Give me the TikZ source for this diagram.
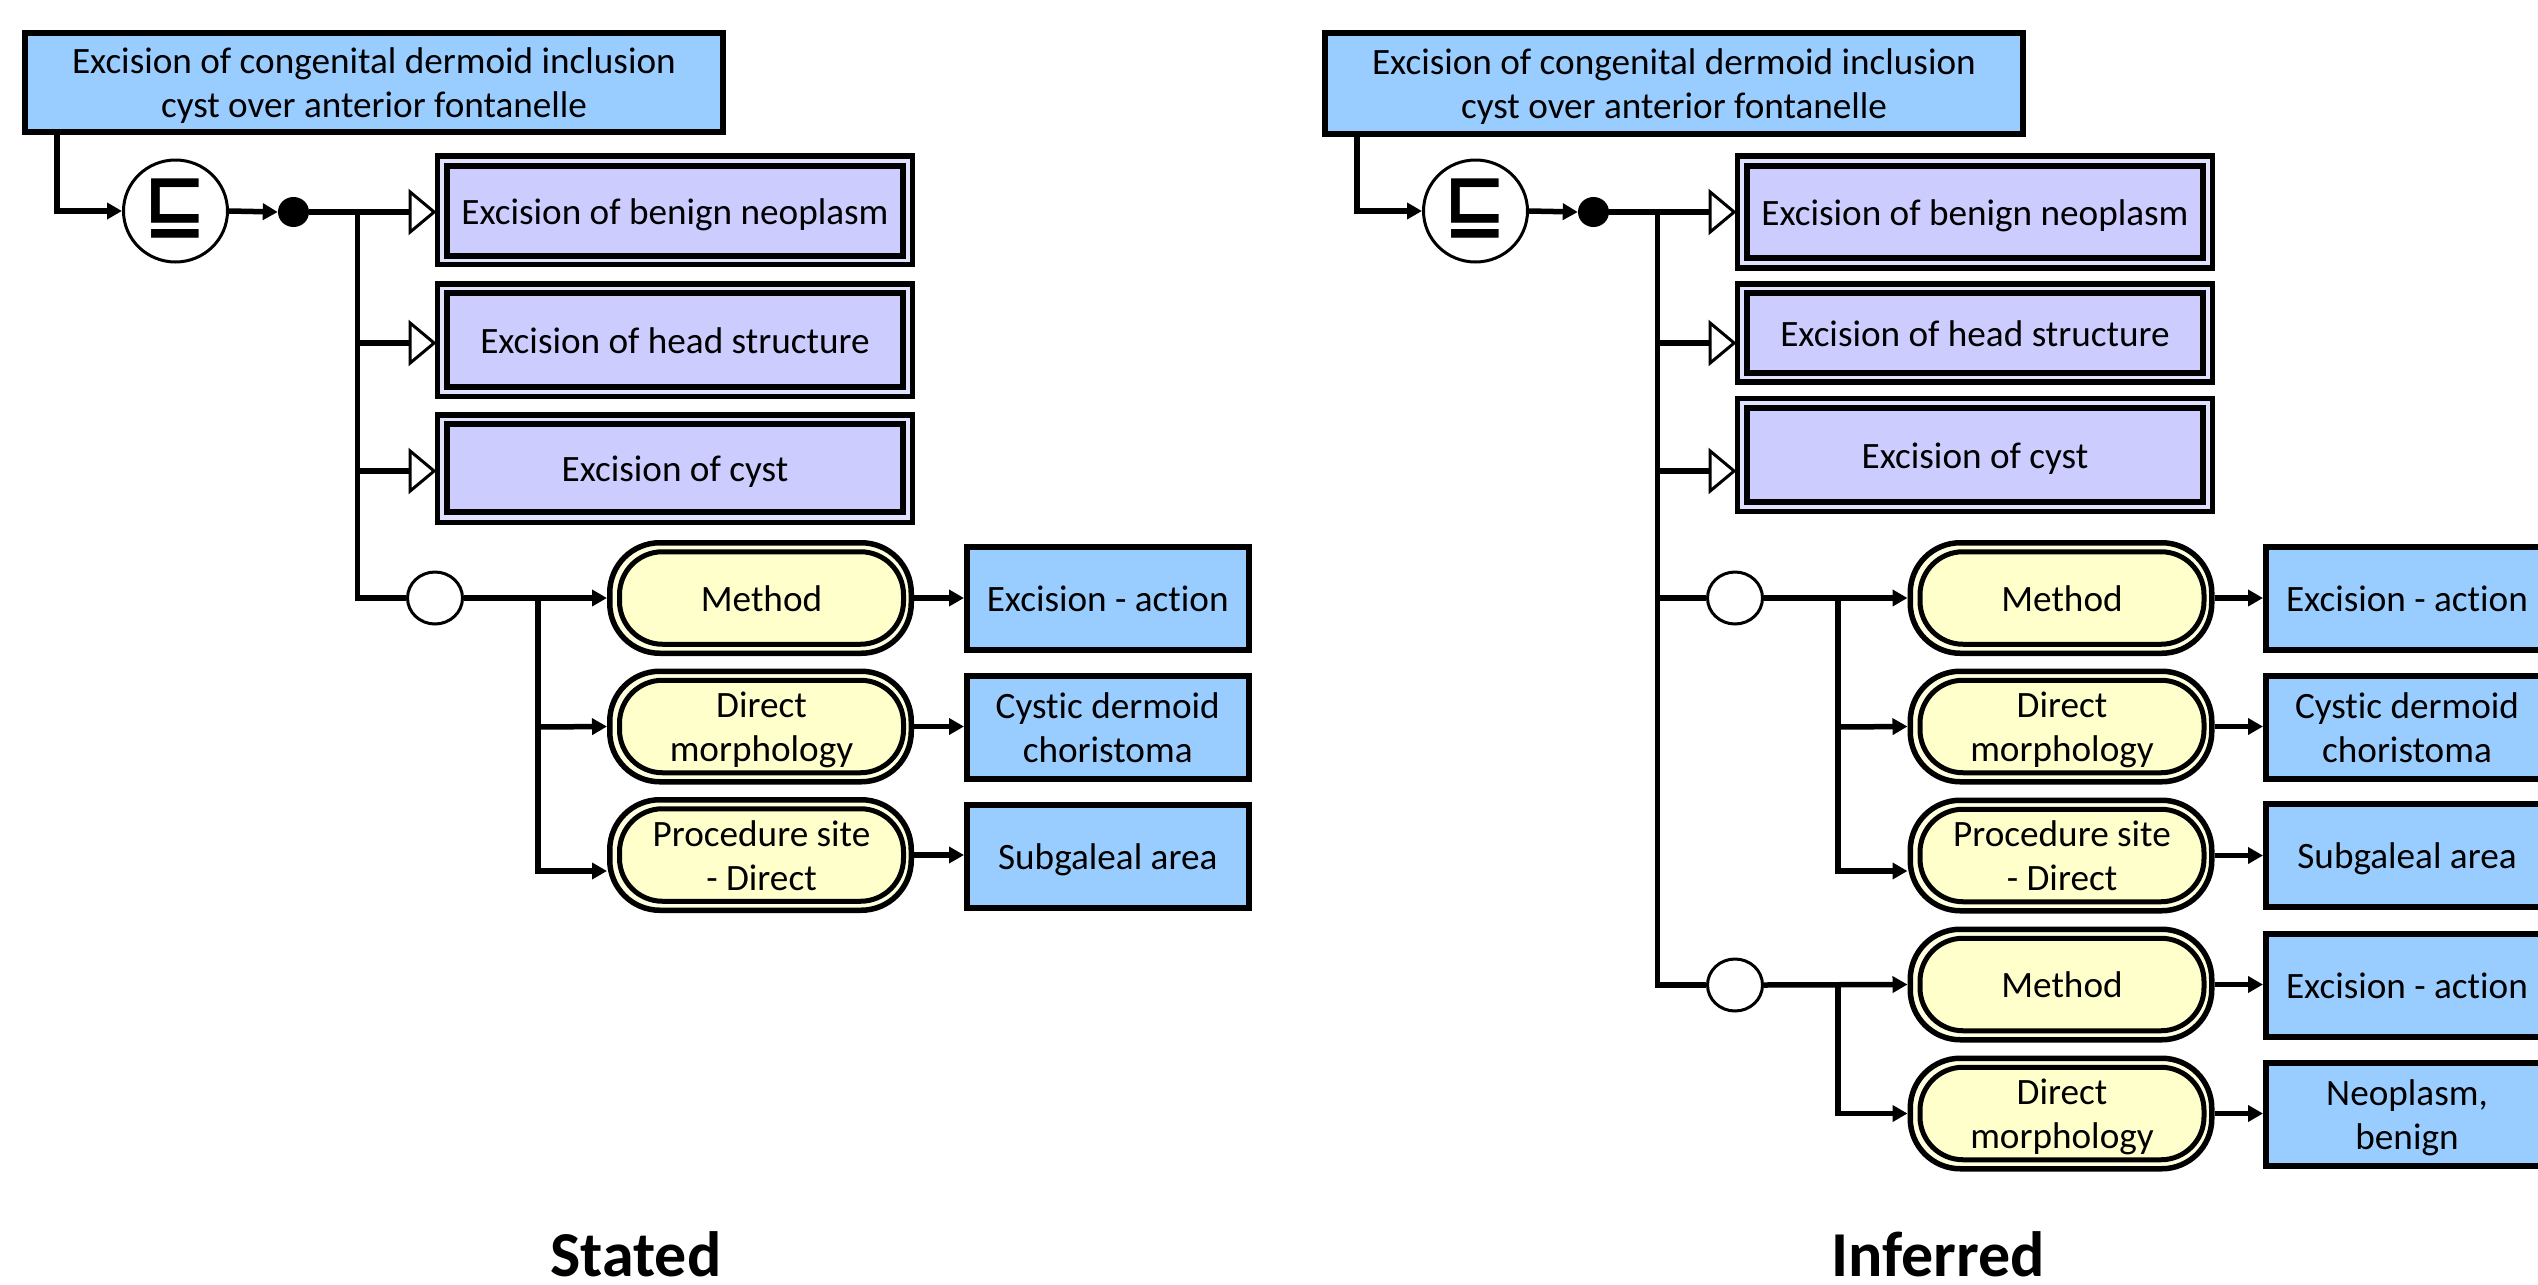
\documentclass[tikz,border=0pt]{standalone}
\usepackage{fontspec}
\setmainfont{Carlito}[Ligatures=NoCommon]
\newfontfamily\symfont{DejaVu Sans}
\usetikzlibrary{arrows.meta,shapes.geometric}
\definecolor{bluefill}{HTML}{99CCFF}
\definecolor{purplefill}{HTML}{CCCCFF}
\definecolor{yellowfill}{HTML}{FFFFCC}
\newcommand{\TopStrut}{\rule{0pt}{36pt}}
\newcommand{\BotStrut}{\rule[-10pt]{0pt}{10pt}}
\tikzset{
  txt/.style={font=\fontsize{37.2}{44}\selectfont,align=center,inner sep=0pt,
    execute at begin node=\TopStrut,execute at end node=\BotStrut},
  bluebox/.style={txt,draw=black,fill=bluefill,line width=6pt,rectangle},
  purpleout/.style={draw=black,fill=purplefill!60!white,line width=5.5pt,rectangle,inner sep=0pt,minimum width=475pt},
  purplein/.style={txt,draw=black,fill=purplefill,line width=6pt,rectangle,minimum width=456pt},
  pillout/.style={draw=black,fill=yellowfill!60!white,line width=5.5pt,rectangle,rounded corners=50pt,inner sep=0pt,minimum width=301.5pt,minimum height=110.5pt},
  pillin/.style={txt,draw=black,fill=yellowfill,line width=5pt,rectangle,rounded corners=43pt,minimum width=284pt,minimum height=92.5pt},
  rolenode/.style={draw=black,fill=white,line width=3pt,ellipse,inner sep=0pt,minimum width=55pt,minimum height=52pt},
  subnode/.style={draw=black,fill=white,line width=3pt,ellipse,inner sep=0pt,minimum width=104pt,minimum height=102pt,text height=44pt,text depth=8pt,font=\symfont\bfseries\fontsize{76}{76}\selectfont},
  dotnode/.style={draw=none,fill=black,ellipse,inner sep=0pt,minimum width=31pt,minimum height=30pt},
  plainline/.style={line width=5.5pt},
  solidarrow/.style={line width=5.5pt,-{Triangle[length=15pt,width=16pt]}},
  openarrow/.style={line width=5.5pt,shorten >=-2pt,-{Triangle[length=28pt,width=46pt,fill=white,line width=3pt]}},
  caption/.style={font=\fontsize{64}{70}\selectfont\bfseries,inner sep=0pt}
}
\newcommand{\PurplePair}[7]{%
  \node[purpleout,minimum height=#4pt] (#1o) at (#2,#3) {};
  \node[purplein,minimum height=#6pt] (#1) at (#2+0.25,#5) {#7};}
\newcommand{\PillPair}[4]{%
  \node[pillout] (#1o) at (#2,#3) {};
  \node[pillin] (#1) at (#2+1,#3) {#4};}
\begin{document}
\begin{tikzpicture}[x=1pt,y=-1pt]
\useasboundingbox (0,0) rectangle (2538,1285);
\clip (0,0) rectangle (2538,1285);
% ===== Stated =====
\node[bluebox,minimum width=698pt,minimum height=99pt] (Ltop) at (374,82.5) {\TopStrut Excision of congenital dermoid inclusion\\cyst over anterior fontanelle};
\node[subnode] (Lsub) at (175.5,211) {⊑};
\node[dotnode] (Ldot) at (293.5,212) {};
\PurplePair{Lpa}{674.75}{210}{108.5}{211}{90}{Excision of benign neoplasm}
\PurplePair{Lpb}{674.75}{340}{112.5}{340}{94}{Excision of head structure}
\PurplePair{Lpc}{674.75}{468.5}{107.5}{468}{88}{Excision of cyst}
\node[rolenode] (Lr) at (435,598) {};
\PillPair{Lma}{760.5}{598}{Method}
\PillPair{Lmb}{760.5}{726.5}{\TopStrut Direct\\morphology}
\PillPair{Lmc}{760.5}{855}{\TopStrut Procedure site\\- Direct}
\node[bluebox,minimum width=281.5pt,minimum height=103pt] (Lva) at (1107.75,598) {Excision - action};
\node[bluebox,minimum width=281.5pt,minimum height=103pt] (Lvb) at (1107.75,727) {\TopStrut Cystic dermoid\\choristoma};
\node[bluebox,minimum width=281.5pt,minimum height=103pt] (Lvc) at (1107.75,856) {Subgaleal area};
\coordinate (Lst) at (57,135);
\coordinate (Lsp) at (357.5,212);
\coordinate (Ltb) at (357.5,343);
\coordinate (Ltc) at (357.5,471);
\coordinate (Lrl) at (357.5,598);
\coordinate (Lbr) at (538,598);
\coordinate (Lbb) at (538,727);
\coordinate (Lbc) at (538,871);
\draw[solidarrow] (Lst) |- (Lsub.west);
\draw[solidarrow] (Lsub.east) -- (Ldot.west);
\draw[openarrow] (Ldot.east) -- (Ldot.east -| Lpao.west);
\draw[openarrow] (Ltb) -- (Ltb -| Lpbo.west);
\draw[openarrow] (Ltc) -- (Ltc -| Lpco.west);
\draw[plainline,line join=miter] (Lsp) -- (Lrl) -- (Lr.west);
\draw[solidarrow] (Lr.east) -- (Lmao.west);
\draw[plainline] (Lbr) -- (Lbb);
\draw[solidarrow] (Lbb) -- (Lmbo.west);
\draw[solidarrow,line join=miter] (Lbb) |- (Lbc -| Lmco.west);
\draw[solidarrow] (Lmao.east) -- (Lva.west |- Lmao.east);
\draw[solidarrow] (Lmbo.east) -- (Lvb.west |- Lmbo.east);
\draw[solidarrow] (Lmco.east) -- (Lvc.west |- Lmco.east);
\node[caption] (Lcap) at (636,1254) {Stated};
% ===== Inferred =====
\node[bluebox,minimum width=698pt,minimum height=101pt] (Rtop) at (1674,83.5) {\TopStrut Excision of congenital dermoid inclusion\\cyst over anterior fontanelle};
\node[subnode] (Rsub) at (1475.5,211) {⊑};
\node[dotnode] (Rdot) at (1593.5,212) {};
\PurplePair{Rpa}{1974.75}{211.75}{112}{212}{92}{Excision of benign neoplasm}
\PurplePair{Rpb}{1974.75}{332.75}{98}{333}{80}{Excision of head structure}
\PurplePair{Rpc}{1974.75}{454.75}{113}{455}{94}{Excision of cyst}
\node[rolenode] (Rra) at (1735,598) {};
\node[rolenode] (Rrb) at (1735,985) {};
\PillPair{Rma}{2061}{598}{Method}
\PillPair{Rmb}{2061}{726.5}{\TopStrut Direct\\morphology}
\PillPair{Rmc}{2061}{855.5}{\TopStrut Procedure site\\- Direct}
\PillPair{Rmd}{2061}{984.5}{Method}
\PillPair{Rme}{2061}{1113.5}{\TopStrut Direct\\morphology}
\node[bluebox,minimum width=282pt,minimum height=103pt] (Rva) at (2407,598) {Excision - action};
\node[bluebox,minimum width=282pt,minimum height=103pt] (Rvb) at (2407,727.5) {\TopStrut Cystic dermoid\\choristoma};
\node[bluebox,minimum width=282pt,minimum height=103pt] (Rvc) at (2407,855.5) {Subgaleal area};
\node[bluebox,minimum width=282pt,minimum height=103pt] (Rvd) at (2407,985) {Excision - action};
\node[bluebox,minimum width=282pt,minimum height=103pt] (Rve) at (2407,1114) {\TopStrut Neoplasm,\\benign};
\coordinate (Rst) at (1357,137);
\coordinate (Rsp) at (1657.5,212);
\coordinate (Rtb) at (1657.5,343);
\coordinate (Rtc) at (1657.5,471);
\coordinate (Rrl) at (1657.5,598);
\coordinate (Rrm) at (1657.5,985);
\coordinate (Rbr) at (1838,598);
\coordinate (Rbb) at (1838,727);
\coordinate (Rbc) at (1838,871);
\coordinate (Rbd) at (1838,985);
\coordinate (Rbe) at (1838,1114);
\draw[solidarrow] (Rst) |- (Rsub.west);
\draw[solidarrow] (Rsub.east) -- (Rdot.west);
\draw[openarrow] (Rdot.east) -- (Rdot.east -| Rpao.west);
\draw[openarrow] (Rtb) -- (Rtb -| Rpbo.west);
\draw[openarrow] (Rtc) -- (Rtc -| Rpco.west);
\draw[plainline] (Rrl) -- (Rra.west);
\draw[plainline,line join=miter] (Rsp) -- (Rrm) -- (Rrb.west);
\draw[solidarrow] (Rra.east) -- (Rmao.west);
\draw[plainline] (Rbr) -- (Rbb);
\draw[solidarrow] (Rbb) -- (Rmbo.west);
\draw[solidarrow,line join=miter] (Rbb) |- (Rbc -| Rmco.west);
\draw[solidarrow] (Rrb.east) -- (Rmdo.west);
\draw[solidarrow,line join=miter] (Rbd) |- (Rmeo.west);
\draw[solidarrow] (Rmao.east) -- (Rva.west |- Rmao.east);
\draw[solidarrow] (Rmbo.east) -- (Rvb.west |- Rmbo.east);
\draw[solidarrow] (Rmco.east) -- (Rvc.west |- Rmco.east);
\draw[solidarrow] (Rmdo.east) -- (Rvd.west |- Rmdo.east);
\draw[solidarrow] (Rmeo.east) -- (Rve.west |- Rmeo.east);
\node[caption] (Rcap) at (1938,1254) {Inferred};
\end{tikzpicture}
\end{document}
